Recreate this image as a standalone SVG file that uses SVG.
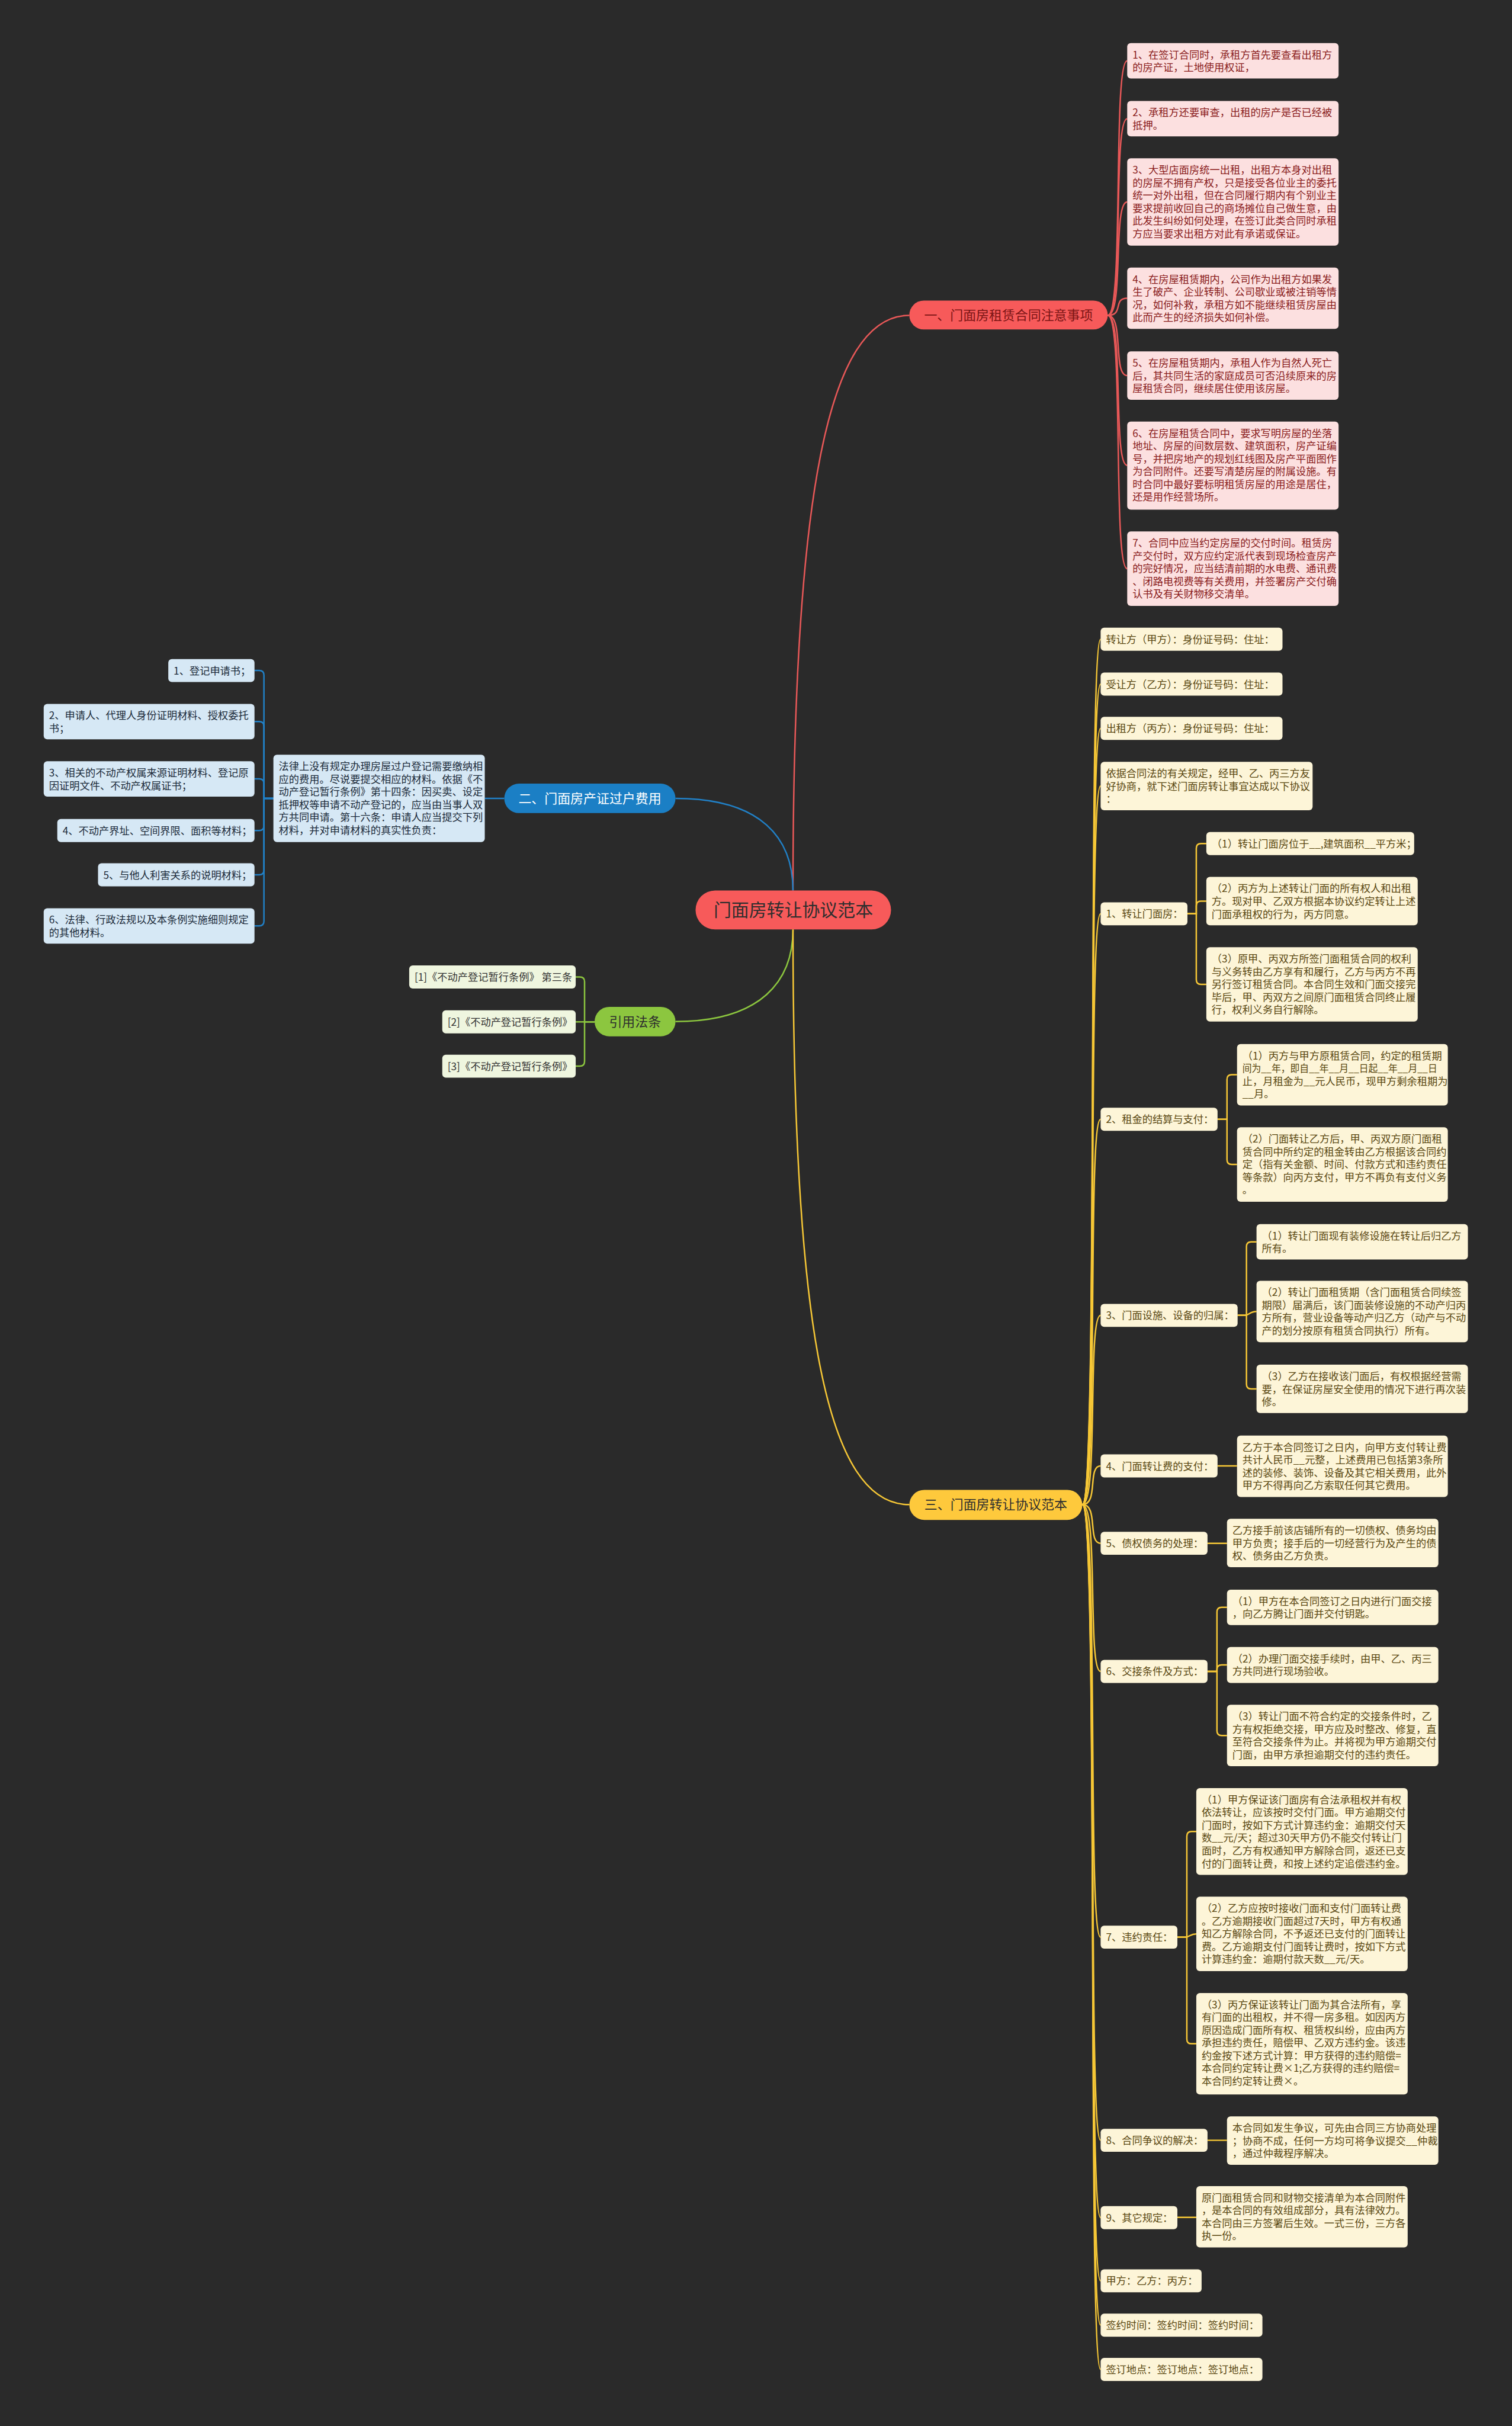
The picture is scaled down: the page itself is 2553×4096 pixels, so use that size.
<svg xmlns="http://www.w3.org/2000/svg" width="2553" height="4096" viewBox="0 0 2553 4096">
<style>
text{font-family:"Noto Sans CJK SC","Noto Sans",sans-serif;}
.sm{font-size:17.3px}
.mn{font-size:22px}
.rr{fill:#fce0e0}
.rt{fill:#8a1c1c}
.br{fill:#d6e8f5}
.bt{fill:#1c2b3a}
.gr{fill:#eff6df}
.gt{fill:#333333}
.yr{fill:#fdf5d8}
.yt{fill:#5a4812}
.cr{fill:none;stroke:#e85858;stroke-width:2.5}
.cb{fill:none;stroke:#2180c6;stroke-width:2.5}
.cg{fill:none;stroke:#8cc63f;stroke-width:2.5}
.cy{fill:none;stroke:#f6c736;stroke-width:2.5}
</style>
<rect x="0" y="0" width="2553" height="4096" fill="#2a2a2a"/>
<g transform="scale(0.997)">
<g id="connectors">
<path class="cr" d="M1343,1508 C1343,850 1400,534 1540,534"/>
<path class="cb" d="M1144,1352 C1290,1352 1343,1420 1343,1508"/>
<path class="cg" d="M1144,1730 C1290,1730 1343,1660 1343,1574"/>
<path class="cy" d="M1343,1574 C1343,2250 1400,2548 1540,2548"/>
<path class="cr" d="M1876,534 C1904,534 1884,103 1909,103"/>
<path class="cr" d="M1876,534 C1904,534 1884,201 1909,201"/>
<path class="cr" d="M1876,534 C1904,534 1884,342 1909,342"/>
<path class="cr" d="M1876,534 C1904,534 1884,505 1909,505"/>
<path class="cr" d="M1876,534 C1904,534 1884,636 1909,636"/>
<path class="cr" d="M1876,534 C1904,534 1884,788 1909,788"/>
<path class="cr" d="M1876,534 C1904,534 1884,963 1909,963"/>
<path class="cb" d="M854,1352 H821"/>
<path class="cb" d="M463,1352 H447 V1143.5 Q447,1135.5 439,1135.5 H431"/>
<path class="cb" d="M463,1352 H447 V1230 Q447,1222 439,1222 H431"/>
<path class="cb" d="M463,1352 H447 V1327 Q447,1319 439,1319 H431"/>
<path class="cb" d="M463,1352 H447 V1398.5 Q447,1406.5 439,1406.5 H431"/>
<path class="cb" d="M463,1352 H447 V1473.5 Q447,1481.5 439,1481.5 H431"/>
<path class="cb" d="M463,1352 H447 V1560 Q447,1568 439,1568 H431"/>
<path class="cg" d="M1007,1730.5 H990 V1662.5 Q990,1654.5 982,1654.5 H975"/>
<path class="cg" d="M1007,1730.5 H975"/>
<path class="cg" d="M1007,1730.5 H990 V1797.5 Q990,1805.5 982,1805.5 H975"/>
<path class="cy" d="M1833,2548 C1861,2548 1841,1082.5 1864,1082.5"/>
<path class="cy" d="M1833,2548 C1861,2548 1841,1158.5 1864,1158.5"/>
<path class="cy" d="M1833,2548 C1861,2548 1841,1233.5 1864,1233.5"/>
<path class="cy" d="M1833,2548 C1861,2548 1841,1331 1864,1331"/>
<path class="cy" d="M1833,2548 C1861,2548 1841,1547.5 1864,1547.5"/>
<path class="cy" d="M1833,2548 C1861,2548 1841,1895.5 1864,1895.5"/>
<path class="cy" d="M1833,2548 C1861,2548 1841,2227.5 1864,2227.5"/>
<path class="cy" d="M1833,2548 C1861,2548 1841,2482.5 1864,2482.5"/>
<path class="cy" d="M1833,2548 C1861,2548 1841,2613.5 1864,2613.5"/>
<path class="cy" d="M1833,2548 C1861,2548 1841,2830.5 1864,2830.5"/>
<path class="cy" d="M1833,2548 C1861,2548 1841,3280.5 1864,3280.5"/>
<path class="cy" d="M1833,2548 C1861,2548 1841,3624.5 1864,3624.5"/>
<path class="cy" d="M1833,2548 C1861,2548 1841,3755.5 1864,3755.5"/>
<path class="cy" d="M1833,2548 C1861,2548 1841,3862.5 1864,3862.5"/>
<path class="cy" d="M1833,2548 C1861,2548 1841,3937.5 1864,3937.5"/>
<path class="cy" d="M1833,2548 C1861,2548 1841,4012.5 1864,4012.5"/>
<path class="cy" d="M2011,1547.5 H2026 V1436.5 Q2026,1428.5 2034,1428.5 H2043"/>
<path class="cy" d="M2011,1547.5 H2026 V1534 Q2026,1526 2034,1526 H2043"/>
<path class="cy" d="M2011,1547.5 H2026 V1659 Q2026,1667 2034,1667 H2043"/>
<path class="cy" d="M2062,1895.5 H2078 V1828 Q2078,1820 2086,1820 H2095"/>
<path class="cy" d="M2062,1895.5 H2078 V1964 Q2078,1972 2086,1972 H2095"/>
<path class="cy" d="M2096,2227.5 H2111 V2111 Q2111,2103 2119,2103 H2128"/>
<path class="cy" d="M2096,2227.5 H2108 C2116,2227.5 2116,2221 2128,2221"/>
<path class="cy" d="M2096,2227.5 H2111 V2344 Q2111,2352 2119,2352 H2128"/>
<path class="cy" d="M2062,2482.5 H2095"/>
<path class="cy" d="M2045,2613.5 H2078"/>
<path class="cy" d="M2045,2830.5 H2061 V2730 Q2061,2722 2069,2722 H2078"/>
<path class="cy" d="M2045,2830.5 H2061 V2827.5 Q2061,2819.5 2069,2819.5 H2078"/>
<path class="cy" d="M2045,2830.5 H2061 V2931 Q2061,2939 2069,2939 H2078"/>
<path class="cy" d="M1994,3280.5 H2010 V3109.5 Q2010,3101.5 2018,3101.5 H2026"/>
<path class="cy" d="M1994,3280.5 H2007 C2015,3280.5 2015,3275 2026,3275"/>
<path class="cy" d="M1994,3280.5 H2010 V3453 Q2010,3461 2018,3461 H2026"/>
<path class="cy" d="M2045,3624.5 H2078"/>
<path class="cy" d="M1994,3755 H2026"/>
</g>

<g id="root">
<rect x="1178" y="1508" width="331" height="66" rx="33" fill="#f75a5a"/>
<text x="1343.5" y="1552" font-size="30" text-anchor="middle" fill="#2e2e2e">门面房转让协议范本</text>
</g>

<g id="main-red">
<rect x="1540" y="509" width="336" height="49" rx="24.5" fill="#f75a5a"/>
<text class="mn" x="1708" y="541.5" text-anchor="middle" fill="#7a1414">一、门面房租赁合同注意事项</text>
</g>
<g id="main-blue">
<rect x="854" y="1327" width="290" height="50" rx="25" fill="#1b7fc5"/>
<text class="mn" x="999" y="1360" text-anchor="middle" fill="#ffffff">二、门面房产证过户费用</text>
</g>
<g id="main-green">
<rect x="1007" y="1705" width="137" height="50" rx="25" fill="#8cc63f"/>
<text class="mn" x="1075.5" y="1738" text-anchor="middle" fill="#2e2e2e">引用法条</text>
</g>
<g id="main-yellow">
<rect x="1540" y="2523" width="293" height="51" rx="25.5" fill="#fec93c"/>
<text class="mn" x="1686.5" y="2556" text-anchor="middle" fill="#2e2e2e">三、门面房转让协议范本</text>
</g>

<g id="r1"><rect class="rr" x="1909" y="73" width="358" height="60" rx="6"/>
<text class="sm rt" y="99"><tspan x="1918">1、在签订合同时，承租方首先要查看出租方</tspan><tspan x="1918" dy="21.6">的房产证，土地使用权证，</tspan></text></g>
<g id="r2"><rect class="rr" x="1909" y="171" width="358" height="60" rx="6"/>
<text class="sm rt" y="197"><tspan x="1918">2、承租方还要审查，出租的房产是否已经被</tspan><tspan x="1918" dy="21.6">抵押。</tspan></text></g>
<g id="r3"><rect class="rr" x="1909" y="268" width="358" height="148" rx="6"/>
<text class="sm rt" y="294"><tspan x="1918">3、大型店面房统一出租，出租方本身对出租</tspan><tspan x="1918" dy="21.6">的房屋不拥有产权，只是接受各位业主的委托</tspan><tspan x="1918" dy="21.6">统一对外出租，但在合同履行期内有个别业主</tspan><tspan x="1918" dy="21.6">要求提前收回自己的商场摊位自己做生意，由</tspan><tspan x="1918" dy="21.6">此发生纠纷如何处理，在签订此类合同时承租</tspan><tspan x="1918" dy="21.6">方应当要求出租方对此有承诺或保证。</tspan></text></g>
<g id="r4"><rect class="rr" x="1909" y="453" width="358" height="104" rx="6"/>
<text class="sm rt" y="479"><tspan x="1918">4、在房屋租赁期内，公司作为出租方如果发</tspan><tspan x="1918" dy="21.6">生了破产、企业转制、公司歇业或被注销等情</tspan><tspan x="1918" dy="21.6">况，如何补救，承租方如不能继续租赁房屋由</tspan><tspan x="1918" dy="21.6">此而产生的经济损失如何补偿。</tspan></text></g>
<g id="r5"><rect class="rr" x="1909" y="595" width="358" height="82" rx="6"/>
<text class="sm rt" y="621"><tspan x="1918">5、在房屋租赁期内，承租人作为自然人死亡</tspan><tspan x="1918" dy="21.6">后，其共同生活的家庭成员可否沿续原来的房</tspan><tspan x="1918" dy="21.6">屋租赁合同，继续居住使用该房屋。</tspan></text></g>
<g id="r6"><rect class="rr" x="1909" y="714" width="358" height="149" rx="6"/>
<text class="sm rt" y="740"><tspan x="1918">6、在房屋租赁合同中，要求写明房屋的坐落</tspan><tspan x="1918" dy="21.6">地址、房屋的间数层数、建筑面积，房产证编</tspan><tspan x="1918" dy="21.6">号，并把房地产的规划红线图及房产平面图作</tspan><tspan x="1918" dy="21.6">为合同附件。还要写清楚房屋的附属设施。有</tspan><tspan x="1918" dy="21.6">时合同中最好要标明租赁房屋的用途是居住，</tspan><tspan x="1918" dy="21.6">还是用作经营场所。</tspan></text></g>
<g id="r7"><rect class="rr" x="1909" y="900" width="358" height="126" rx="6"/>
<text class="sm rt" y="926"><tspan x="1918">7、合同中应当约定房屋的交付时间。租赁房</tspan><tspan x="1918" dy="21.6">产交付时，双方应约定派代表到现场检查房产</tspan><tspan x="1918" dy="21.6">的完好情况，应当结清前期的水电费、通讯费</tspan><tspan x="1918" dy="21.6">、闭路电视费等有关费用，并签署房产交付确</tspan><tspan x="1918" dy="21.6">认书及有关财物移交清单。</tspan></text></g>

<g id="b0"><rect class="br" x="463" y="1278" width="358" height="148" rx="6"/>
<text class="sm bt" y="1304"><tspan x="472">法律上没有规定办理房屋过户登记需要缴纳相</tspan><tspan x="472" dy="21.6">应的费用。尽说要提交相应的材料。依据《不</tspan><tspan x="472" dy="21.6">动产登记暂行条例》第十四条：因买卖、设定</tspan><tspan x="472" dy="21.6">抵押权等申请不动产登记的，应当由当事人双</tspan><tspan x="472" dy="21.6">方共同申请。第十六条：申请人应当提交下列</tspan><tspan x="472" dy="21.6">材料，并对申请材料的真实性负责：</tspan></text></g>
<g id="b1"><rect class="br" x="285" y="1116" width="146" height="39" rx="6"/>
<text class="sm bt" x="294" y="1142">1、登记申请书；</text></g>
<g id="b2"><rect class="br" x="74" y="1192" width="357" height="60" rx="6"/>
<text class="sm bt" y="1218"><tspan x="83">2、申请人、代理人身份证明材料、授权委托</tspan><tspan x="83" dy="21.6">书；</tspan></text></g>
<g id="b3"><rect class="br" x="74" y="1289" width="357" height="60" rx="6"/>
<text class="sm bt" y="1315"><tspan x="83">3、相关的不动产权属来源证明材料、登记原</tspan><tspan x="83" dy="21.6">因证明文件、不动产权属证书；</tspan></text></g>
<g id="b4"><rect class="br" x="97" y="1387" width="334" height="39" rx="6"/>
<text class="sm bt" x="106" y="1413">4、不动产界址、空间界限、面积等材料；</text></g>
<g id="b5"><rect class="br" x="166" y="1462" width="265" height="39" rx="6"/>
<text class="sm bt" x="175" y="1488">5、与他人利害关系的说明材料；</text></g>
<g id="b6"><rect class="br" x="74" y="1538" width="357" height="60" rx="6"/>
<text class="sm bt" y="1564"><tspan x="83">6、法律、行政法规以及本条例实施细则规定</tspan><tspan x="83" dy="21.6">的其他材料。</tspan></text></g>

<g id="g1"><rect class="gr" x="693" y="1635" width="282" height="39" rx="6"/>
<text class="sm gt" x="702" y="1661">[1]《不动产登记暂行条例》 第三条</text></g>
<g id="g2"><rect class="gr" x="749" y="1711" width="226" height="39" rx="6"/>
<text class="sm gt" x="758" y="1737">[2]《不动产登记暂行条例》</text></g>
<g id="g3"><rect class="gr" x="749" y="1786" width="226" height="39" rx="6"/>
<text class="sm gt" x="758" y="1812">[3]《不动产登记暂行条例》</text></g>

<g id="y1"><rect class="yr" x="1864" y="1063" width="308" height="39" rx="6"/>
<text class="sm yt" x="1873" y="1089">转让方（甲方）：身份证号码：住址：</text></g>
<g id="y2"><rect class="yr" x="1864" y="1139" width="308" height="39" rx="6"/>
<text class="sm yt" x="1873" y="1165">受让方（乙方）：身份证号码：住址：</text></g>
<g id="y3"><rect class="yr" x="1864" y="1214" width="308" height="39" rx="6"/>
<text class="sm yt" x="1873" y="1240">出租方（丙方）：身份证号码：住址：</text></g>
<g id="y4"><rect class="yr" x="1864" y="1290" width="359" height="82" rx="6"/>
<text class="sm yt" y="1316"><tspan x="1873">依据合同法的有关规定，经甲、乙、丙三方友</tspan><tspan x="1873" dy="21.6">好协商，就下述门面房转让事宜达成以下协议</tspan><tspan x="1873" dy="21.6">：</tspan></text></g>
<g id="y5"><rect class="yr" x="1864" y="1528" width="147" height="39" rx="6"/>
<text class="sm yt" x="1873" y="1554">1、转让门面房：</text></g>
<g id="y5a"><rect class="yr" x="2043" y="1409" width="352" height="39" rx="6"/>
<text class="sm yt" x="2052" y="1435">（1）转让门面房位于__,建筑面积__平方米；</text></g>
<g id="y5b"><rect class="yr" x="2043" y="1485" width="358" height="82" rx="6"/>
<text class="sm yt" y="1511"><tspan x="2052">（2）丙方为上述转让门面的所有权人和出租</tspan><tspan x="2052" dy="21.6">方。现对甲、乙双方根据本协议约定转让上述</tspan><tspan x="2052" dy="21.6">门面承租权的行为，丙方同意。</tspan></text></g>
<g id="y5c"><rect class="yr" x="2043" y="1604" width="358" height="126" rx="6"/>
<text class="sm yt" y="1630"><tspan x="2052">（3）原甲、丙双方所签门面租赁合同的权利</tspan><tspan x="2052" dy="21.6">与义务转由乙方享有和履行，乙方与丙方不再</tspan><tspan x="2052" dy="21.6">另行签订租赁合同。本合同生效和门面交接完</tspan><tspan x="2052" dy="21.6">毕后，甲、丙双方之间原门面租赁合同终止履</tspan><tspan x="2052" dy="21.6">行，权利义务自行解除。</tspan></text></g>
<g id="y6"><rect class="yr" x="1864" y="1876" width="198" height="39" rx="6"/>
<text class="sm yt" x="1873" y="1902">2、租金的结算与支付：</text></g>
<g id="y6a"><rect class="yr" x="2095" y="1768" width="357" height="104" rx="6"/>
<text class="sm yt" x="2104" y="1794">（1）丙方与甲方原租赁合同，约定的租赁期</text>
<text class="sm yt" x="2104" y="1815.6" textLength="330" lengthAdjust="spacingAndGlyphs">间为__年，即自__年__月__日起__年__月__日</text>
<text class="sm yt" y="1837.2"><tspan x="2104">止，月租金为__元人民币，现甲方剩余租期为</tspan><tspan x="2104" dy="21.6">__月。</tspan></text></g>
<g id="y6b"><rect class="yr" x="2095" y="1909" width="357" height="126" rx="6"/>
<text class="sm yt" y="1935"><tspan x="2104">（2）门面转让乙方后，甲、丙双方原门面租</tspan><tspan x="2104" dy="21.6">赁合同中所约定的租金转由乙方根据该合同约</tspan><tspan x="2104" dy="21.6">定（指有关金额、时间、付款方式和违约责任</tspan><tspan x="2104" dy="21.6">等条款）向丙方支付，甲方不再负有支付义务</tspan><tspan x="2104" dy="21.6">。</tspan></text></g>
<g id="y7"><rect class="yr" x="1864" y="2208" width="232" height="39" rx="6"/>
<text class="sm yt" x="1873" y="2234">3、门面设施、设备的归属：</text></g>
<g id="y7a"><rect class="yr" x="2128" y="2073" width="358" height="60" rx="6"/>
<text class="sm yt" y="2099"><tspan x="2137">（1）转让门面现有装修设施在转让后归乙方</tspan><tspan x="2137" dy="21.6">所有。</tspan></text></g>
<g id="y7b"><rect class="yr" x="2128" y="2169" width="358" height="104" rx="6"/>
<text class="sm yt" y="2195"><tspan x="2137">（2）转让门面租赁期（含门面租赁合同续签</tspan><tspan x="2137" dy="21.6">期限）届满后，该门面装修设施的不动产归丙</tspan><tspan x="2137" dy="21.6">方所有，营业设备等动产归乙方（动产与不动</tspan><tspan x="2137" dy="21.6">产的划分按原有租赁合同执行）所有。</tspan></text></g>
<g id="y7c"><rect class="yr" x="2128" y="2311" width="358" height="82" rx="6"/>
<text class="sm yt" y="2337"><tspan x="2137">（3）乙方在接收该门面后，有权根据经营需</tspan><tspan x="2137" dy="21.6">要，在保证房屋安全使用的情况下进行再次装</tspan><tspan x="2137" dy="21.6">修。</tspan></text></g>
<g id="y8"><rect class="yr" x="1864" y="2463" width="198" height="39" rx="6"/>
<text class="sm yt" x="1873" y="2489">4、门面转让费的支付：</text></g>
<g id="y8a"><rect class="yr" x="2095" y="2431" width="357" height="104" rx="6"/>
<text class="sm yt" y="2457"><tspan x="2104">乙方于本合同签订之日内，向甲方支付转让费</tspan><tspan x="2104" dy="21.6">共计人民币__元整，上述费用已包括第3条所</tspan><tspan x="2104" dy="21.6">述的装修、装饰、设备及其它相关费用，此外</tspan><tspan x="2104" dy="21.6">甲方不得再向乙方索取任何其它费用。</tspan></text></g>
<g id="y9"><rect class="yr" x="1864" y="2594" width="181" height="39" rx="6"/>
<text class="sm yt" x="1873" y="2620">5、债权债务的处理：</text></g>
<g id="y9a"><rect class="yr" x="2078" y="2572" width="358" height="82" rx="6"/>
<text class="sm yt" y="2598"><tspan x="2087">乙方接手前该店铺所有的一切债权、债务均由</tspan><tspan x="2087" dy="21.6">甲方负责；接手后的一切经营行为及产生的债</tspan><tspan x="2087" dy="21.6">权、债务由乙方负责。</tspan></text></g>
<g id="y10"><rect class="yr" x="1864" y="2811" width="181" height="39" rx="6"/>
<text class="sm yt" x="1873" y="2837">6、交接条件及方式：</text></g>
<g id="y10a"><rect class="yr" x="2078" y="2692" width="358" height="60" rx="6"/>
<text class="sm yt" y="2718"><tspan x="2087">（1）甲方在本合同签订之日内进行门面交接</tspan><tspan x="2087" dy="21.6">，向乙方腾让门面并交付钥匙。</tspan></text></g>
<g id="y10b"><rect class="yr" x="2078" y="2789" width="358" height="61" rx="6"/>
<text class="sm yt" y="2815"><tspan x="2087">（2）办理门面交接手续时，由甲、乙、丙三</tspan><tspan x="2087" dy="21.6">方共同进行现场验收。</tspan></text></g>
<g id="y10c"><rect class="yr" x="2078" y="2887" width="358" height="104" rx="6"/>
<text class="sm yt" y="2913"><tspan x="2087">（3）转让门面不符合约定的交接条件时，乙</tspan><tspan x="2087" dy="21.6">方有权拒绝交接，甲方应及时整改、修复，直</tspan><tspan x="2087" dy="21.6">至符合交接条件为止。并将视为甲方逾期交付</tspan><tspan x="2087" dy="21.6">门面，由甲方承担逾期交付的违约责任。</tspan></text></g>
<g id="y11"><rect class="yr" x="1864" y="3261" width="130" height="39" rx="6"/>
<text class="sm yt" x="1873" y="3287">7、违约责任：</text></g>
<g id="y11a"><rect class="yr" x="2026" y="3028" width="358" height="147" rx="6"/>
<text class="sm yt" y="3054"><tspan x="2035">（1）甲方保证该门面房有合法承租权并有权</tspan><tspan x="2035" dy="21.6">依法转让，应该按时交付门面。甲方逾期交付</tspan><tspan x="2035" dy="21.6">门面时，按如下方式计算违约金：逾期交付天</tspan><tspan x="2035" dy="21.6">数__元/天；超过30天甲方仍不能交付转让门</tspan><tspan x="2035" dy="21.6">面时，乙方有权通知甲方解除合同，返还已支</tspan><tspan x="2035" dy="21.6">付的门面转让费，和按上述约定追偿违约金。</tspan></text></g>
<g id="y11b"><rect class="yr" x="2026" y="3212" width="358" height="126" rx="6"/>
<text class="sm yt" y="3238"><tspan x="2035">（2）乙方应按时接收门面和支付门面转让费</tspan><tspan x="2035" dy="21.6">。乙方逾期接收门面超过7天时，甲方有权通</tspan><tspan x="2035" dy="21.6">知乙方解除合同，不予返还已支付的门面转让</tspan><tspan x="2035" dy="21.6">费。乙方逾期支付门面转让费时，按如下方式</tspan><tspan x="2035" dy="21.6">计算违约金：逾期付款天数__元/天。</tspan></text></g>
<g id="y11c"><rect class="yr" x="2026" y="3375" width="358" height="172" rx="6"/>
<text class="sm yt" y="3401"><tspan x="2035">（3）丙方保证该转让门面为其合法所有，享</tspan><tspan x="2035" dy="21.6">有门面的出租权，并不得一房多租。如因丙方</tspan><tspan x="2035" dy="21.6">原因造成门面所有权、租赁权纠纷，应由丙方</tspan><tspan x="2035" dy="21.6">承担违约责任，赔偿甲、乙双方违约金。该违</tspan><tspan x="2035" dy="21.6">约金按下述方式计算：甲方获得的违约赔偿=</tspan><tspan x="2035" dy="21.6">本合同约定转让费×1;乙方获得的违约赔偿=</tspan><tspan x="2035" dy="21.6">本合同约定转让费×。</tspan></text></g>
<g id="y12"><rect class="yr" x="1864" y="3605" width="181" height="39" rx="6"/>
<text class="sm yt" x="1873" y="3631">8、合同争议的解决：</text></g>
<g id="y12a"><rect class="yr" x="2078" y="3584" width="358" height="82" rx="6"/>
<text class="sm yt" y="3610"><tspan x="2087">本合同如发生争议，可先由合同三方协商处理</tspan><tspan x="2087" dy="21.6">；协商不成，任何一方均可将争议提交__仲裁</tspan><tspan x="2087" dy="21.6">，通过仲裁程序解决。</tspan></text></g>
<g id="y13"><rect class="yr" x="1864" y="3736" width="130" height="39" rx="6"/>
<text class="sm yt" x="1873" y="3762">9、其它规定：</text></g>
<g id="y13a"><rect class="yr" x="2026" y="3702" width="358" height="104" rx="6"/>
<text class="sm yt" y="3728"><tspan x="2035">原门面租赁合同和财物交接清单为本合同附件</tspan><tspan x="2035" dy="21.6">，是本合同的有效组成部分，具有法律效力。</tspan><tspan x="2035" dy="21.6">本合同由三方签署后生效。一式三份，三方各</tspan><tspan x="2035" dy="21.6">执一份。</tspan></text></g>
<g id="y14"><rect class="yr" x="1864" y="3843" width="171" height="39" rx="6"/>
<text class="sm yt" x="1873" y="3869">甲方：乙方：丙方：</text></g>
<g id="y15"><rect class="yr" x="1864" y="3918" width="274" height="39" rx="6"/>
<text class="sm yt" x="1873" y="3944">签约时间：签约时间：签约时间：</text></g>
<g id="y16"><rect class="yr" x="1864" y="3993" width="274" height="39" rx="6"/>
<text class="sm yt" x="1873" y="4019">签订地点：签订地点：签订地点：</text></g>
</g>
</svg>
